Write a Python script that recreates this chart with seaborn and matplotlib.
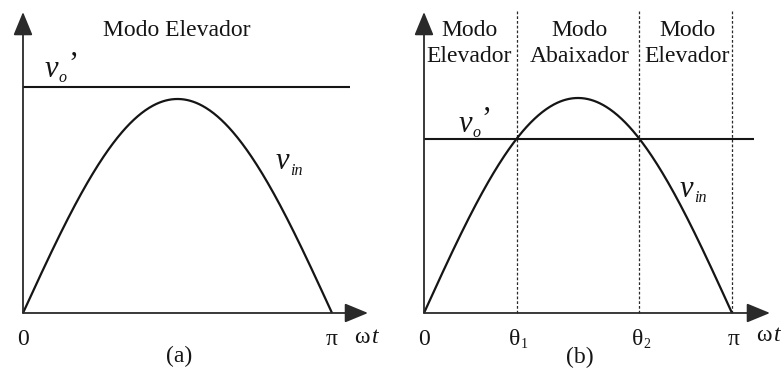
import numpy as np
import pandas as pd
import matplotlib
matplotlib.use("Agg")
import matplotlib.pyplot as plt
import seaborn as sns

# ---- data -------------------------------------------------------------
wt = np.linspace(0.0, np.pi, 400)          # angle ωt over a half period
vin_peak = 1.0                             # peak of the rectified input v_in
vo_a = 1.056                               # v_o' above the peak: boost only
vo_b = 0.81                                # v_o' below the peak: boost/buck
vo_end_a = 3.32                            # extent of the v_o' line (rad)
vo_end_b = 3.37

vin = vin_peak * np.sin(wt)
theta1 = np.arcsin(vo_b / vin_peak)
theta2 = np.pi - theta1

tick_a = ["0", "π"]
tick_b = ["0", "θ", "θ", "π"]
subs_b = ["1", "2"]
modes_a = ["Modo Elevador"]
modes_b = [("Modo", "Elevador"), ("Modo", "Abaixador"), ("Modo", "Elevador")]

# ---- style ------------------------------------------------------------
sns.set_style("white")
plt.rcParams["font.family"] = ["Liberation Serif", "DejaVu Serif"]
INK = "#151515"
AX = "#2a2a2a"
SERIF = "Liberation Serif"

fig = plt.figure(figsize=(7.84, 3.69), dpi=100)
ax_a = fig.add_axes([0.0, 0.0, 0.5, 1.0])
ax_b = fig.add_axes([0.5, 0.0, 0.5, 1.0])

ax_a.set_xlim(-0.2338, 3.7516)
ax_a.set_ylim(-0.2617, 1.4626)
ax_b.set_xlim(-0.3264, 3.672)
ax_b.set_ylim(-0.2605, 1.4558)


def axes_arrows(ax, xtip, ytip):
    style = "-|>,head_length=0.8,head_width=0.33"
    kw = dict(arrowstyle=style, mutation_scale=18, lw=1.3, color=AX,
              shrinkA=0, shrinkB=0)
    ax.annotate("", xy=(xtip, 0), xytext=(0, 0), arrowprops=kw)
    ax.annotate("", xy=(0, ytip), xytext=(0, 0), arrowprops=kw)


def vlabel(ax, x, y, sub, xs, ys, prime=None):
    ax.text(x, y, "v", fontsize=22, style="italic", family=SERIF,
            color=INK, va="baseline", ha="left")
    ax.text(xs, ys, sub, fontsize=11.5, style="italic", family=SERIF,
            color=INK, va="baseline", ha="left")
    if prime is not None:
        ax.text(prime[0], prime[1], "’", fontsize=22, family=SERIF,
                color=INK, va="baseline", ha="left")


def wt_label(ax, x, y):
    ax.text(x, y, "ω", fontsize=17, family=SERIF, color=INK,
            va="baseline", ha="left")
    ax.text(x + 0.175, y, "t", fontsize=17, style="italic", family=SERIF,
            color=INK, va="baseline", ha="left")


# ---- panel (a) ----------------------------------------------------------
sns.lineplot(x=wt, y=vin, ax=ax_a, color=INK, lw=1.6)
sns.lineplot(x=[0, vo_end_a], y=[vo_a, vo_a], ax=ax_a, color=INK, lw=1.5)
axes_arrows(ax_a, 3.5076, 1.4065)

ax_a.text(1.566, 1.294, modes_a[0], fontsize=17, ha="center",
          va="baseline", color=INK)
vlabel(ax_a, 0.224, 1.103, "o", 0.362, 1.079, prime=(0.46, 1.12))
vlabel(ax_a, 2.572, 0.673, "in", 2.715, 0.645)
for xv, lab in zip([0.0, np.pi], tick_a):
    ax_a.text(xv, -0.1495, lab, fontsize=17, ha="center", va="baseline",
              color=INK)
wt_label(ax_a, 3.37, -0.140)
ax_a.text(1.586, -0.229, "(a)", fontsize=17, ha="center", va="baseline",
          color=INK)

# ---- panel (b) ----------------------------------------------------------
ax_b.vlines([theta1, theta2, np.pi], 0, 1.409, colors=AX, lw=0.9,
            linestyles=(0, (2.2, 1.6)))
sns.lineplot(x=wt, y=vin, ax=ax_b, color=INK, lw=1.6)
sns.lineplot(x=[0, vo_end_b], y=[vo_b, vo_b], ax=ax_b, color=INK, lw=1.5)
axes_arrows(ax_b, 3.529, 1.40)

for cx, (l1, l2) in zip([0.459, 1.591, 2.683], modes_b):
    ax_b.text(cx, 1.288, l1, fontsize=17, ha="center", va="baseline",
              color=INK)
    ax_b.text(cx, 1.167, l2, fontsize=17, ha="center", va="baseline",
              color=INK)
vlabel(ax_b, 0.357, 0.842, "o", 0.495, 0.818, prime=(0.59, 0.86))
vlabel(ax_b, 2.611, 0.540, "in", 2.754, 0.516)

xt_b = [0.0, theta1, theta2, np.pi]
for xv, lab in zip(xt_b, tick_b):
    ax_b.text(xv - (0.02 if lab == "θ" else -0.02 * (xv > 3)), -0.149, lab,
              fontsize=17, ha="center", va="baseline", color=INK)
for xv, sub in zip([theta1, theta2], subs_b):
    ax_b.text(xv + 0.045, -0.163, sub, fontsize=10, ha="left",
              va="baseline", color=INK)
wt_label(ax_b, 3.39, -0.130)
ax_b.text(1.591, -0.2326, "(b)", fontsize=17, ha="center", va="baseline",
          color=INK)

for ax in (ax_a, ax_b):
    ax.set_axis_off()
    for ln in ax.lines:
        ln.set_solid_capstyle("butt")

fig.savefig("out.png", dpi=100, facecolor="white")
